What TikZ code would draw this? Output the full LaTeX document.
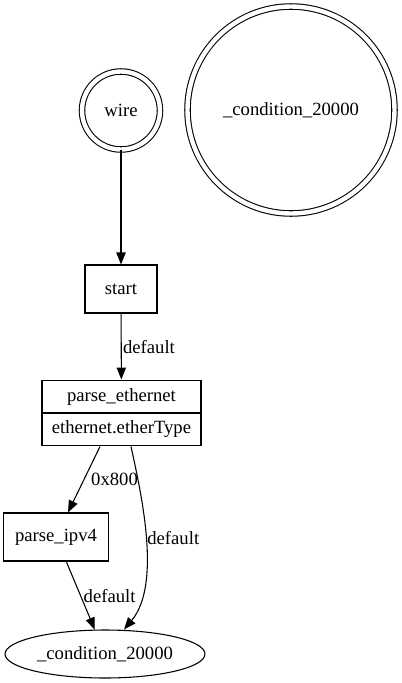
\documentclass[tikz,border=0pt]{standalone}
\usepackage{fontspec}
\setmainfont{Liberation Serif}
\usetikzlibrary{calc,shapes.multipart,shapes.geometric,arrows.meta}
\tikzset{
  every node/.style={font=\fontsize{14}{17}\selectfont, text=black},
  state/.style={ % image of a double circle state
    draw, circle, double, double distance=3.3pt, inner sep=0pt
  },
  stepbox/.style={ % image of a plain parser state
    draw, rectangle, minimum height=36pt, minimum width=54pt, inner xsep=9pt
  },
  record/.style={ % image of a state with its select field
    draw, rectangle split, rectangle split parts=2,
    minimum width=119.25pt, inner ysep=5.6pt, inner xsep=6pt
  },
  sink/.style={
    draw, ellipse, minimum width=150pt, minimum height=36pt, inner sep=2pt
  },
  lbl/.style={inner sep=1pt}
}
\begin{document}
\begin{tikzpicture}[
      x=0.75pt, y=-0.75pt, ->, line width=0.8pt,
      >={Triangle[length=9pt,width=7pt]}
    ]
    \useasboundingbox (0,0) rectangle (401,683);

    \node[state,minimum size=58.5pt] (wire) at (121,110.5) {wire};
    \node[state,minimum size=155.25pt] (cond_acc) at (291,110) {\_condition\_20000};
    \node[stepbox] (start) at (121,289) {start};
    \node[record] (pe) at (121.5,413) {\nodepart{one}parse\_ethernet\nodepart{two}ethernet.etherType};
    \node[stepbox] (ipv4) at (56,537) {parse\_ipv4};
    \node[sink] (cond) at (105,654) {\_condition\_20000};

    \draw (wire) -- (start);
    \draw (start) -- node[lbl,right] (l_start) {default} (pe);
    \draw ($(pe.south)+(-21.5,0)$) -- node[lbl,right,xshift=4pt] (l_eth) {0x800} ($(ipv4.north)+(12,0)$);
    \draw ($(pe.south)+(9.5,0)$) .. controls +(10,46) and +(38,-45) .. node[lbl,right] (l_pe) {default} ($(cond.north)+(19,0)$);
    \draw (ipv4) -- node[lbl,right,xshift=1pt] (l_ipv4) {default} (cond);
  \end{tikzpicture}
\end{document}
